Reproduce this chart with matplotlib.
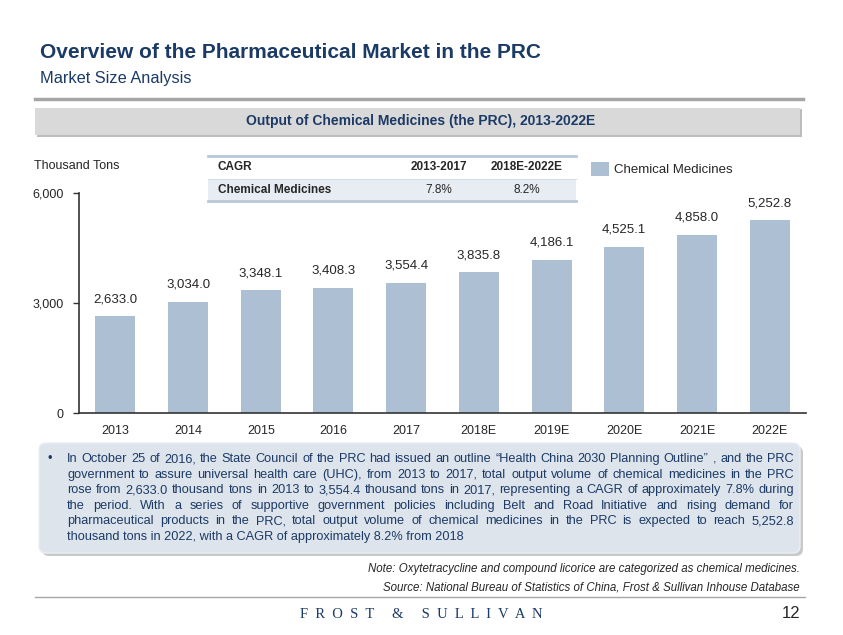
import numpy as np
import matplotlib.pyplot as plt
from matplotlib.patches import FancyBboxPatch, Rectangle
from matplotlib.lines import Line2D

years = ['2013', '2014', '2015', '2016', '2017', '2018E', '2019E', '2020E', '2021E', '2022E']
output = [2633.0, 3034.0, 3348.1, 3408.3, 3554.4, 3835.8, 4186.1, 4525.1, 4858.0, 5252.8]
yticks = [0, 3000, 6000]
cagr_periods = ['2013-2017', '2018E-2022E']
cagr_values = ['7.8%', '8.2%']

body_lines = [
    'In October 25 of 2016, the State Council of the PRC had issued an outline \u201cHealth China 2030 Planning Outline\u201d ,  and the PRC',
    'government to assure universal health care (UHC), from 2013 to 2017, total output volume of chemical medicines in the PRC',
    'rose from 2,633.0 thousand tons in 2013 to 3,554.4 thousand tons in 2017, representing a CAGR of approximately 7.8% during',
    'the period. With a series of supportive government policies including Belt and Road Initiative and rising demand for',
    'pharmaceutical products in the PRC, total output volume of chemical medicines in the PRC is expected to reach 5,252.8',
    'thousand tons in 2022, with a CAGR of approximately 8.2% from 2018',
]

plt.rcParams['font.family'] = ['Liberation Sans', 'DejaVu Sans']

W, H = 843, 635
fig = plt.figure(figsize=(W / 100, H / 100), dpi=100)


def fx(px):
    return px / W


def fy(py):
    return 1 - py / H


NAVY = '#1b3a66'
BAR = '#adbfd3'
DARK = '#262626'
inch = fig.dpi_scale_trans

# header
fig.text(fx(40), fy(52), 'Overview of the Pharmaceutical Market in the PRC', fontsize=15,
         fontweight='bold', color=NAVY, va='center')
fig.text(fx(40), fy(78), 'Market Size Analysis', fontsize=11.8, color=NAVY, va='center')
fig.add_artist(Line2D([fx(35), fx(803)], [fy(99), fy(99)], color='#a6a6a6', lw=2.5))

fig.add_artist(Rectangle((37 / 100, (H - 137) / 100), 765 / 100, 28 / 100,
                         transform=inch, facecolor='#bdbdbd', edgecolor='none'))
fig.add_artist(Rectangle((35 / 100, (H - 135) / 100), 765 / 100, 27 / 100,
                         transform=inch, facecolor='#d9d9d9', edgecolor='none'))
fig.text(fx(421), fy(121), 'Output of Chemical Medicines (the PRC), 2013-2022E', fontsize=10,
         fontweight='bold', color=NAVY, ha='center', va='center')

# chart
ax = fig.add_axes([fx(79), fy(413), (806 - 79) / W, (413 - 193) / H])
x = np.arange(len(years))
ax.bar(x, output, width=0.55, color=BAR)
for xi, v in zip(x, output):
    ax.annotate(f'{v:,.1f}', (xi, v), xytext=(0, 8), textcoords='offset points',
                ha='center', va='bottom', fontsize=9.5, color=DARK)
ax.set_xlim(-0.5, 9.5)
ax.set_ylim(0, 6000)
ax.set_xticks(x, years)
ax.set_yticks(yticks, [f'{v:,}' for v in yticks])
ax.tick_params(axis='x', length=0, pad=9, labelsize=9, labelcolor=DARK)
ax.tick_params(axis='y', length=4, width=1, pad=7, labelsize=9, labelcolor=DARK, color='#333333')
for s in ['top', 'right']:
    ax.spines[s].set_visible(False)
for s in ['left', 'bottom']:
    ax.spines[s].set_color('#333333')
    ax.spines[s].set_linewidth(1.2)

fig.text(fx(34), fy(166), 'Thousand Tons', fontsize=9, color=DARK, va='center')

# CAGR table
fig.add_artist(Rectangle((208 / 100, (H - 201) / 100), 368 / 100, 22 / 100,
                         transform=inch, facecolor='#e8edf3', edgecolor='none'))
fig.add_artist(Line2D([fx(208), fx(576)], [fy(156), fy(156)], color='#b8c8da', lw=2))
fig.add_artist(Line2D([fx(208), fx(576)], [fy(178.5), fy(178.5)], color='#d3dce7', lw=0.8))
fig.add_artist(Line2D([fx(208), fx(576)], [fy(201), fy(201)], color='#b8c8da', lw=2))
fig.text(fx(218), fy(167), 'CAGR', fontsize=8.5, fontweight='bold', color=DARK, va='center')
fig.text(fx(218), fy(190), 'Chemical Medicines', fontsize=8.5, fontweight='bold', color=DARK, va='center')
for cx, per, val in zip([439, 527], cagr_periods, cagr_values):
    fig.text(fx(cx), fy(167), per, fontsize=8.5, fontweight='bold', color=DARK, ha='center', va='center')
    fig.text(fx(cx), fy(190), val, fontsize=8.5, color=DARK, ha='center', va='center')

# legend
fig.add_artist(Rectangle((591 / 100, (H - 176) / 100), 18 / 100, 14 / 100,
                         transform=inch, facecolor=BAR, edgecolor='none'))
fig.text(fx(614), fy(170), 'Chemical Medicines', fontsize=9.5, color=DARK, va='center')

# commentary box
fig.add_artist(FancyBboxPatch((42 / 100, (H - 556) / 100), 761 / 100, 110 / 100,
                              boxstyle='round,pad=0,rounding_size=0.07', transform=inch,
                              facecolor='#c9c9c9', edgecolor='none'))
fig.add_artist(FancyBboxPatch((39 / 100, (H - 553) / 100), 761 / 100, 110 / 100,
                              boxstyle='round,pad=0,rounding_size=0.07', transform=inch,
                              facecolor='#dde4ec', edgecolor='#e9eef4', lw=1))
fig.text(fx(48), fy(462), '\u2022', fontsize=9.2, color=NAVY, va='baseline')

renderer = fig.canvas.get_renderer()
left, right = 67, 794
for i, line in enumerate(body_lines):
    y = fy(462 + i * 15.6)
    if i == len(body_lines) - 1:
        fig.text(fx(left), y, line, fontsize=9.2, color=NAVY, va='baseline')
        continue
    words = line.split()
    texts = [fig.text(0, y, w, fontsize=9.2, color=NAVY, va='baseline') for w in words]
    widths = [t.get_window_extent(renderer).width for t in texts]
    gap = (right - left - sum(widths)) / (len(words) - 1)
    pos = left
    for t, w in zip(texts, widths):
        t.set_x(fx(pos))
        pos += w + gap

# notes and footer
fig.text(fx(800), fy(569), 'Note: Oxytetracycline and compound licorice are categorized as chemical medicines.',
         fontsize=8.3, style='italic', color=DARK, ha='right', va='center')
fig.text(fx(800), fy(587), 'Source: National Bureau of Statistics of China, Frost & Sullivan Inhouse Database',
         fontsize=8.3, style='italic', color=DARK, ha='right', va='center')
fig.add_artist(Line2D([fx(35), fx(805)], [fy(597), fy(597)], color='#a6a6a6', lw=1))
fig.text(fx(421), fy(614), 'F  R  O  S  T     &     S  U  L  L  I  V  A  N', fontsize=10.5,
         family=['Liberation Serif', 'DejaVu Serif'], color=NAVY, ha='center', va='center')
fig.text(fx(800), fy(614), '12', fontsize=12, color=DARK, ha='right', va='center')

fig.savefig('out.png', dpi=100)
